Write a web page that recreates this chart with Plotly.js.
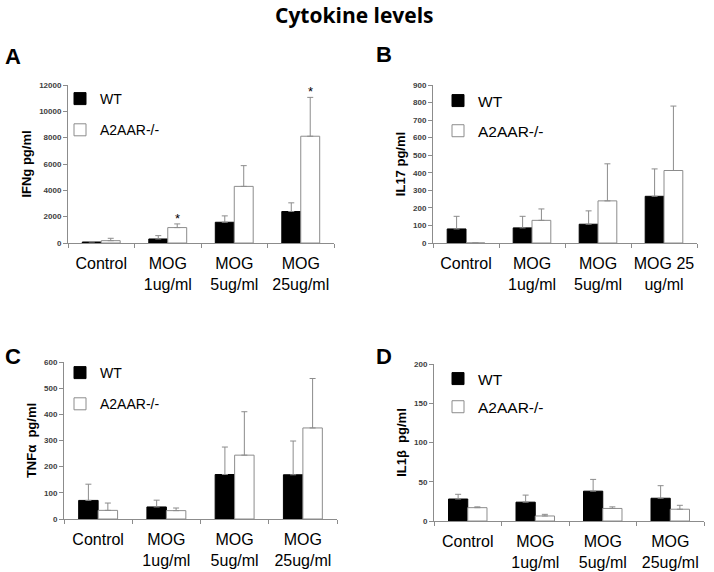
<!DOCTYPE html>
<html>
<head>
<meta charset="utf-8">
<script src="https://cdn.plot.ly/plotly-3.0.1.min.js"></script>
<style>html,body{margin:0;padding:0;background:#fff;}#chart{width:714px;height:572px;}</style>
</head>
<body>
<div id="chart"></div>
<script>
// ---- data ----
const groupsStd = ['Control', 'MOG<br>1ug/ml', 'MOG<br>5ug/ml', 'MOG<br>25ug/ml'];
const groupsB = ['Control', 'MOG<br>1ug/ml', 'MOG<br>5ug/ml', 'MOG 25<br>ug/ml'];
const seriesNames = ['WT', 'A2AAR-/-'];

// A: IFNg pg/ml
const ifngWT = [76, 305, 1575, 2390];
const ifngWTErr = [40, 255, 485, 660];
const ifngKO = [178, 1170, 4300, 8110];
const ifngKOErr = [180, 280, 1575, 2950];
const ifngStars = ['', '*', '', '*'];

// B: IL17 pg/ml
const il17WT = [80, 86, 107, 266];
const il17WTErr = [72, 66, 76, 156];
const il17KO = [0, 129, 240, 413];
const il17KOErr = [0, 65, 211, 367];

// C: TNFa pg/ml
const tnfWT = [71, 46, 170, 169];
const tnfWTErr = [62, 26, 105, 129];
const tnfKO = [33, 32, 244, 348];
const tnfKOErr = [28, 10, 166, 189];

// D: IL1b pg/ml
const il1WT = [28, 24, 38, 29];
const il1WTErr = [6, 9, 15, 16];
const il1KO = [17, 6.4, 16, 15];
const il1KOErr = [1, 2.1, 2, 5];

const axisTitles = ['IFNg pg/ml', 'IL17 pg/ml', 'TNF\u03b1\u00a0 pg/ml', 'IL1\u03b2\u00a0 pg/ml'];
const yRanges = [[0, 12000], [0, 900], [0, 600], [0, 200]];
const yDticks = [2000, 100, 100, 50];
const panelLetters = ['A', 'B', 'C', 'D'];

// ---- styling ----
const axisGray = '#8c8c8c';
const panels = [
  {cats: groupsStd, wt: ifngWT, wtErr: ifngWTErr, ko: ifngKO, koErr: ifngKOErr, xa: 'x', ya: 'y', leg: 'legend'},
  {cats: groupsB, wt: il17WT, wtErr: il17WTErr, ko: il17KO, koErr: il17KOErr, xa: 'x2', ya: 'y2', leg: 'legend2'},
  {cats: groupsStd, wt: tnfWT, wtErr: tnfWTErr, ko: tnfKO, koErr: tnfKOErr, xa: 'x3', ya: 'y3', leg: 'legend3'},
  {cats: groupsStd, wt: il1WT, wtErr: il1WTErr, ko: il1KO, koErr: il1KOErr, xa: 'x4', ya: 'y4', leg: 'legend4'}
];

const traces = [];
panels.forEach((p, i) => {
  traces.push({
    type: 'bar', name: seriesNames[0], x: p.cats, y: p.wt, xaxis: p.xa, yaxis: p.ya,
    legend: p.leg, legendgroup: 'wt' + i,
    marker: {color: '#000000', line: {color: '#000000', width: 1}},
    error_y: {type: 'data', array: p.wtErr, symmetric: false, arrayminus: p.wtErr.map(() => 0),
      color: axisGray, thickness: 1, width: 3},
    hoverinfo: 'y'
  });
  traces.push({
    type: 'bar', name: seriesNames[1], x: p.cats, y: p.ko, xaxis: p.xa, yaxis: p.ya,
    legend: p.leg, legendgroup: 'ko' + i,
    marker: {color: '#ffffff', line: {color: axisGray, width: 1}},
    error_y: {type: 'data', array: p.koErr, symmetric: false, arrayminus: p.koErr.map(() => 0),
      color: axisGray, thickness: 1, width: 3},
    hoverinfo: 'y'
  });
});

function xAxis(domain, anchor) {
  return {
    domain: domain, anchor: anchor, type: 'category',
    showline: true, linecolor: axisGray, linewidth: 1,
    ticks: 'outside', tickson: 'boundaries', ticklen: 4, tickcolor: axisGray,
    ticklabelstandoff: 6, tickangle: 0,
    tickfont: {family: 'Liberation Sans, Arial, sans-serif', size: 16, color: '#000'},
    showgrid: false, zeroline: false, fixedrange: true
  };
}
function yAxis(domain, anchor, i, standoff) {
  return {
    domain: domain, anchor: anchor, range: yRanges[i], dtick: yDticks[i], tickformat: 'd',
    showline: true, linecolor: axisGray, linewidth: 1,
    ticks: 'outside', ticklen: 4, tickcolor: axisGray,
    tickfont: {family: 'Liberation Sans, Arial, sans-serif', size: 8, color: '#404040', weight: 'bold'},
    showgrid: false, zeroline: false, fixedrange: true,
    title: {text: axisTitles[i], standoff: standoff,
      font: {family: 'Liberation Sans, Arial, sans-serif', size: 13, color: '#000', weight: 'bold'}}
  };
}
function legend(x, y, size, gap) {
  return {
    x: x, y: y, xanchor: 'left', yanchor: 'top', bgcolor: 'rgba(0,0,0,0)', borderwidth: 0,
    font: {family: 'Liberation Sans, Arial, sans-serif', size: size, color: '#000'},
    traceorder: 'grouped', tracegroupgap: gap, itemclick: false, itemdoubleclick: false
  };
}

const letterFont = {family: 'Liberation Sans, Arial, sans-serif', size: 22, color: '#000', weight: 'bold'};
const annotations = [
  {text: 'Cytokine levels', xref: 'paper', yref: 'paper', x: 0.497, y: 0.9735, xanchor: 'center', yanchor: 'middle',
    showarrow: false, font: {family: 'Open Sans, sans-serif', size: 21, color: '#000', weight: 'bold'}},
  {text: panelLetters[0], xref: 'paper', yref: 'paper', x: 13 / 714, y: 1 - 56 / 572, xanchor: 'center', yanchor: 'middle', showarrow: false, font: letterFont},
  {text: panelLetters[1], xref: 'paper', yref: 'paper', x: 384 / 714, y: 1 - 55 / 572, xanchor: 'center', yanchor: 'middle', showarrow: false, font: letterFont},
  {text: panelLetters[2], xref: 'paper', yref: 'paper', x: 13 / 714, y: 1 - 356 / 572, xanchor: 'center', yanchor: 'middle', showarrow: false, font: letterFont},
  {text: panelLetters[3], xref: 'paper', yref: 'paper', x: 384 / 714, y: 1 - 356 / 572, xanchor: 'center', yanchor: 'middle', showarrow: false, font: letterFont}
];
ifngStars.forEach((s, k) => {
  if (s) {
    annotations.push({text: s, xref: 'x', yref: 'y', x: groupsStd[k], y: ifngKO[k] + ifngKOErr[k],
      xshift: 10, yshift: -4, yanchor: 'bottom', showarrow: false,
      font: {family: 'Liberation Sans, Arial, sans-serif', size: 13, color: '#000'}});
  }
});

const layout = {
  width: 714, height: 572,
  margin: {l: 0, r: 0, t: 0, b: 0},
  paper_bgcolor: '#ffffff', plot_bgcolor: '#ffffff',
  barmode: 'group', bargap: 0.43, bargroupgap: 0,
  showlegend: true,
  xaxis: xAxis([68 / 714, 334 / 714], 'y'),
  yaxis: yAxis([329 / 572, 487 / 572], 'x', 0, 4),
  xaxis2: xAxis([433 / 714, 697 / 714], 'y2'),
  yaxis2: yAxis([329 / 572, 487 / 572], 'x2', 1, 4),
  xaxis3: xAxis([64 / 714, 337 / 714], 'y3'),
  yaxis3: yAxis([53 / 572, 210 / 572], 'x3', 2, 4),
  xaxis4: xAxis([434 / 714, 704 / 714], 'y4'),
  yaxis4: yAxis([51 / 572, 208 / 572], 'x4', 3, 4),
  legend: legend(60 / 714, 1 - 83 / 572, 14, 10),
  legend2: legend(438 / 714, 1 - 84 / 572, 15.5, 7),
  legend3: legend(60 / 714, 1 - 357 / 572, 14, 10),
  legend4: legend(438 / 714, 1 - 362 / 572, 15.5, 5),
  annotations: annotations
};

Plotly.newPlot('chart', traces, layout, {displayModeBar: false, staticPlot: true});
</script>
</body>
</html>
